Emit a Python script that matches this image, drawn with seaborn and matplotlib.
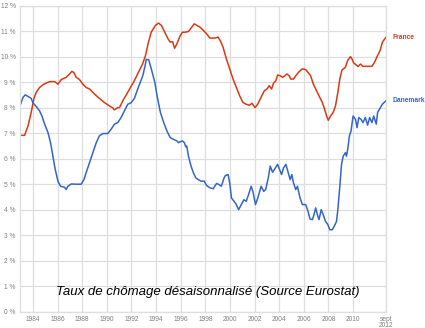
import matplotlib
matplotlib.use("Agg")
import matplotlib.pyplot as plt
import seaborn as sns
import pandas as pd

# Monthly unemployment rate (seasonally adjusted), decimal year -> %
france_years = [
    1983.00, 1983.32, 1983.60, 1983.86, 1984.08, 1984.27, 1984.54, 1984.89,
    1985.35, 1985.76, 1986.03, 1986.30, 1986.70, 1986.97, 1987.16, 1987.32,
    1987.51, 1987.78, 1988.05, 1988.32, 1988.60, 1989.00, 1989.40, 1989.80,
    1990.20, 1990.50, 1990.60, 1990.90, 1991.03, 1991.30, 1991.57, 1992.00,
    1992.24, 1992.50, 1992.90, 1993.14, 1993.34, 1993.60, 1993.95, 1994.20,
    1994.43, 1994.70, 1994.97, 1995.15, 1995.34, 1995.50, 1995.69, 1995.96,
    1996.14, 1996.36, 1996.63, 1996.90, 1997.10, 1997.30, 1997.57, 1997.84,
    1998.10, 1998.37, 1998.77, 1999.04, 1999.25, 1999.44, 1999.71, 1999.98,
    2000.25, 2000.52, 2000.79, 2001.05, 2001.32, 2001.59, 2001.78, 2002.04,
    2002.25, 2002.52, 2002.79, 2003.00, 2003.19, 2003.38, 2003.54, 2003.73,
    2003.87, 2004.08, 2004.27, 2004.46, 2004.62, 2004.81, 2004.94, 2005.16,
    2005.34, 2005.61, 2005.88, 2006.15, 2006.34, 2006.55, 2006.77, 2006.96,
    2007.23, 2007.50, 2007.68, 2007.85, 2007.98, 2008.17, 2008.38, 2008.57,
    2008.76, 2008.92, 2009.10, 2009.37, 2009.56, 2009.78, 2009.91, 2010.05,
    2010.27, 2010.40, 2010.59, 2010.80, 2011.13, 2011.53, 2011.74, 2011.98,
    2012.19, 2012.38, 2012.67,
]
france_rate = [
    6.92, 6.92, 7.29, 7.82, 8.37, 8.61, 8.80, 8.93,
    9.03, 9.03, 8.93, 9.11, 9.20, 9.33, 9.43, 9.39,
    9.20, 9.11, 8.93, 8.80, 8.74, 8.54, 8.37, 8.21,
    8.08, 7.99, 7.92, 8.01, 8.01, 8.28, 8.50, 8.87,
    9.07, 9.33, 9.72, 10.05, 10.50, 10.97, 11.24, 11.33,
    11.24, 10.97, 10.71, 10.58, 10.60, 10.34, 10.51, 10.84,
    10.97, 10.97, 11.00, 11.17, 11.30, 11.24, 11.17, 11.04,
    10.91, 10.74, 10.74, 10.78, 10.60, 10.38, 9.92, 9.53,
    9.13, 8.80, 8.47, 8.21, 8.14, 8.10, 8.18, 8.01,
    8.14, 8.41, 8.67, 8.74, 8.87, 8.74, 8.97, 9.07,
    9.29, 9.26, 9.20, 9.26, 9.33, 9.26, 9.13, 9.13,
    9.26, 9.42, 9.53, 9.50, 9.39, 9.26, 8.93, 8.74,
    8.47, 8.21, 7.95, 7.68, 7.51, 7.68, 7.82, 8.08,
    8.61, 9.13, 9.49, 9.59, 9.86, 10.01, 9.92, 9.76,
    9.68, 9.62, 9.72, 9.63, 9.63, 9.63, 9.79, 10.05,
    10.25, 10.58, 10.78,
]

denmark_years = [
    1983.00, 1983.19, 1983.38, 1983.59, 1983.86, 1984.00, 1984.27, 1984.54,
    1984.73, 1984.95, 1985.22, 1985.43, 1985.62, 1985.81, 1986.03, 1986.24,
    1986.57, 1986.70, 1986.84, 1987.11, 1987.51, 1987.92, 1988.14, 1988.32,
    1988.59, 1988.86, 1989.14, 1989.40, 1989.68, 1990.08, 1990.35, 1990.62,
    1990.89, 1991.16, 1991.43, 1991.70, 1991.97, 1992.24, 1992.51, 1992.92,
    1993.10, 1993.20, 1993.40, 1993.61, 1993.90, 1994.08, 1994.35, 1994.62,
    1994.88, 1995.15, 1995.42, 1995.69, 1995.82, 1995.96, 1996.14, 1996.30,
    1996.41, 1996.49, 1996.63, 1996.84, 1997.03, 1997.22, 1997.43, 1997.65,
    1997.91, 1998.10, 1998.37, 1998.64, 1998.91, 1999.10, 1999.30, 1999.52,
    1999.63, 1999.85, 1999.98, 2000.12, 2000.33, 2000.52, 2000.70, 2000.92,
    2001.13, 2001.32, 2001.51, 2001.72, 2001.86, 2002.07, 2002.26, 2002.53,
    2002.74, 2002.90, 2003.11, 2003.27, 2003.46, 2003.65, 2003.87, 2004.00,
    2004.19, 2004.35, 2004.54, 2004.73, 2004.89, 2005.02, 2005.16, 2005.34,
    2005.48, 2005.69, 2005.88, 2006.15, 2006.34, 2006.50, 2006.69, 2006.82,
    2006.96, 2007.10, 2007.23, 2007.41, 2007.57, 2007.76, 2007.95, 2008.11,
    2008.30, 2008.49, 2008.65, 2008.76, 2008.92, 2009.06, 2009.19, 2009.38,
    2009.46, 2009.56, 2009.70, 2009.83, 2010.00, 2010.19, 2010.32, 2010.46,
    2010.64, 2010.80, 2010.99, 2011.18, 2011.34, 2011.53, 2011.67, 2011.88,
    2011.99, 2012.21, 2012.37, 2012.67,
]
denmark_rate = [
    8.14, 8.41, 8.51, 8.45, 8.37, 8.20, 8.05, 7.88,
    7.68, 7.36, 7.03, 6.63, 6.10, 5.58, 5.12, 4.92,
    4.88, 4.79, 4.92, 5.01, 5.00, 5.00, 5.18, 5.45,
    5.84, 6.24, 6.63, 6.90, 6.99, 6.99, 7.16, 7.36,
    7.42, 7.62, 7.88, 8.14, 8.20, 8.37, 8.74, 9.26,
    9.63, 9.90, 9.89, 9.53, 9.00, 8.47, 7.82, 7.42,
    7.09, 6.83, 6.76, 6.70, 6.63, 6.67, 6.70, 6.63,
    6.47, 6.50, 6.10, 5.71, 5.45, 5.25, 5.18, 5.12,
    5.12, 4.95, 4.86, 4.82, 5.03, 4.99, 4.92, 5.25,
    5.34, 5.38, 5.05, 4.46, 4.33, 4.20, 4.00, 4.20,
    4.39, 4.33, 4.59, 4.92, 4.72, 4.20, 4.46, 4.92,
    4.72, 4.79, 5.25, 5.71, 5.47, 5.61, 5.78, 5.61,
    5.38, 5.64, 5.78, 5.45, 5.18, 5.38, 5.05, 4.79,
    4.92, 4.46, 4.20, 4.20, 3.93, 3.63, 3.61, 3.80,
    4.07, 3.80, 3.61, 4.00, 3.80, 3.54, 3.41, 3.21,
    3.21, 3.37, 3.54, 4.00, 4.92, 5.78, 6.10, 6.24,
    6.10, 6.37, 6.90, 7.09, 7.68, 7.55, 7.22, 7.62,
    7.55, 7.42, 7.62, 7.32, 7.62, 7.42, 7.68, 7.36,
    7.82, 8.01, 8.14, 8.28,
]

series_names = ["France", "Danemark"]
series_colors = ["#dc3912", "#3366cc"]
x_tick_values = [1984, 1986, 1988, 1990, 1992, 1994, 1996, 1998,
                 2000, 2002, 2004, 2006, 2008, 2010, 2012.67]
x_tick_labels = ["1984", "1986", "1988", "1990", "1992", "1994", "1996", "1998",
                 "2000", "2002", "2004", "2006", "2008", "2010", "sept\n2012"]
y_tick_values = list(range(0, 13))
y_tick_labels = [f"{v} %" for v in y_tick_values]
caption = "Taux de chômage désaisonnalisé (Source Eurostat)"

df = pd.concat([
    pd.DataFrame({"annee": france_years, "taux": france_rate, "pays": "France"}),
    pd.DataFrame({"annee": denmark_years, "taux": denmark_rate, "pays": "Danemark"}),
])

sns.set_style("white")
plt.rcParams["font.family"] = ["Liberation Sans", "DejaVu Sans"]

fig = plt.figure(figsize=(4.25, 3.28), dpi=100)
ax = fig.add_axes([20 / 425, 1 - 311.5 / 328, 366 / 425, 305.5 / 328])

sns.lineplot(data=df, x="annee", y="taux", hue="pays", hue_order=series_names,
             palette=series_colors, linewidth=1.1, sort=False, legend=False,
             estimator=None, ax=ax)

grid_color = "#dedede"
tick_color = "#808080"
ax.set_xlim(1982.95, 2012.67)
ax.set_ylim(0, 12)
ax.set_xticks(x_tick_values)
ax.set_xticklabels(x_tick_labels, fontsize=4.8, color=tick_color, linespacing=0.9)
ax.set_yticks(y_tick_values)
ax.set_yticklabels(y_tick_labels, fontsize=4.8, color=tick_color)
ax.tick_params(axis="x", length=0, pad=3)
ax.tick_params(axis="y", length=0, pad=3)
ax.grid(True, color=grid_color, linewidth=0.9)
ax.set_axisbelow(True)
for side in ["left", "right", "top", "bottom"]:
    ax.spines[side].set_color(grid_color)
    ax.spines[side].set_linewidth(0.9)
ax.set_xlabel("")
ax.set_ylabel("")

# Series names at the right end of each line
for name, years, rate, color in zip(series_names, [france_years, denmark_years],
                                    [france_rate, denmark_rate], series_colors):
    ax.annotate(name, xy=(years[-1], rate[-1]), xytext=(4.5, 0),
                textcoords="offset points", color=color, fontsize=4.8,
                fontweight="bold", va="center", ha="left", annotation_clip=False)

ax.text(0.514, 0.064, caption, transform=ax.transAxes, ha="center", va="center",
        fontsize=9.5, fontstyle="italic", color="black")

fig.savefig("out.png", dpi=100)
